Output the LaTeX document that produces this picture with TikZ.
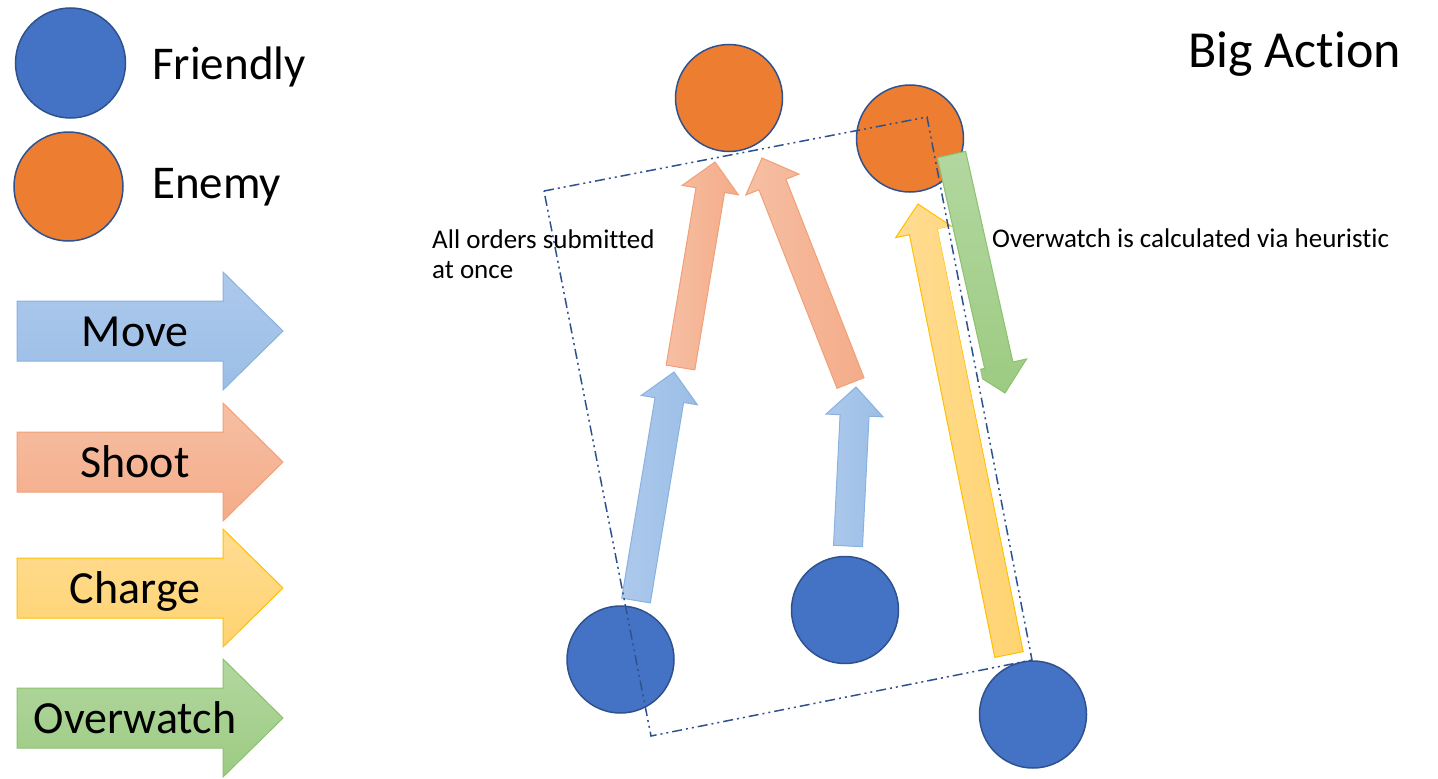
\documentclass[tikz,border=0pt]{standalone}
\usepackage{fontspec}
\setmainfont{Carlito}[Ligatures={NoCommon,NoRare,NoContextual}]
\usetikzlibrary{calc}
\definecolor{cBlue}{HTML}{4472C4}
\definecolor{cOrange}{HTML}{ED7D31}
\definecolor{cOutline}{HTML}{2F528F}
\definecolor{moveA}{HTML}{ADC9EC}
\definecolor{moveB}{HTML}{9BBEE6}
\definecolor{moveD}{HTML}{8AB2E0}
\definecolor{shootA}{HTML}{F6BFA3}
\definecolor{shootB}{HTML}{F4AC89}
\definecolor{shootD}{HTML}{F29F78}
\definecolor{chargeA}{HTML}{FFDC93}
\definecolor{chargeB}{HTML}{FFD370}
\definecolor{chargeD}{HTML}{FFC000}
\definecolor{greenA}{HTML}{B2D7A0}
\definecolor{greenB}{HTML}{9DCB82}
\definecolor{greenD}{HTML}{8CC26E}
\newcommand{\mkblockarrow}[4]{%
  \coordinate (#4b) at ($(#3)!28.5pt!(#2)$);
  \path[#1] ($(#2)!14.5pt!90:(#3)$) -- ($(#4b)!14.5pt!90:(#3)$) -- ($(#4b)!28.5pt!90:(#3)$) -- (#3) -- ($(#4b)!28.5pt!-90:(#3)$) -- ($(#4b)!14.5pt!-90:(#3)$) -- ($(#2)!14.5pt!-90:(#3)$) -- cycle;
}
\newcommand{\legendarrow}[3]{% style, tip y, name
  \path[#1] (17,#2-30) coordinate (#3a) -- (223,#2-30) -- (223,#2-59) -- (283,#2) coordinate (#3tip) -- (223,#2+59) -- (223,#2+30) -- (17,#2+30) -- cycle;
}
\begin{document}
\begin{tikzpicture}[x=1pt,y=-1pt,
  circ/.style={circle, inner sep=0pt, minimum size=107pt, draw=cOutline, line width=1.5pt},
  friendly/.style={circ, fill=cBlue},
  enemy/.style={circ, fill=cOrange},
  movearr/.style={draw=moveD, line width=1pt, left color=moveA, right color=moveB},
  shootarr/.style={draw=shootD, line width=1pt, left color=shootA, right color=shootB},
  chargearr/.style={draw=chargeD, line width=1pt, left color=chargeA, right color=chargeB},
  watcharr/.style={draw=greenD, line width=1pt, top color=greenA, bottom color=greenB},
  lmove/.style={draw=moveD, line width=1pt, top color=moveA, bottom color=moveB},
  lshoot/.style={draw=shootD, line width=1pt, top color=shootA, bottom color=shootB},
  lcharge/.style={draw=chargeD, line width=1pt, top color=chargeA, bottom color=chargeB},
  lwatch/.style={draw=greenD, line width=1pt, top color=greenA, bottom color=greenB},
  bigtxt/.style={inner sep=0pt, font=\fontsize{47}{56}\selectfont},
  legtxt/.style={inner sep=0pt, anchor=base, font=\fontsize{46}{54}\selectfont},
  smalltxt/.style={inner sep=0pt, anchor=base west, font=\fontsize{27}{30}\selectfont},
  dashrect/.style={draw=cOutline, line width=1.5pt, dash pattern=on 10pt off 4pt on 2pt off 4pt on 2pt off 4pt}
]
\useasboundingbox (0,0) rectangle (1438,779);
\fill[white] (0,0) rectangle (1438,779);

% legend
\node[friendly, minimum size=110pt] (lf) at (70.5,63) {};
\node[enemy, minimum size=109pt] (le) at (68.5,186.5) {};
\node[bigtxt, anchor=base west] (lft) at (152,79) {Friendly};
\node[bigtxt, anchor=base west] (let) at (152,198) {Enemy};

\legendarrow{lmove}{331}{lm}
\legendarrow{lshoot}{462}{ls}
\legendarrow{lcharge}{588}{lc}
\legendarrow{lwatch}{718}{lw}
\node[legtxt] (lmt) at (135,346) {Move};
\node[legtxt] (lst) at (135,477) {Shoot};
\node[legtxt] (lct) at (135,603) {Charge};
\node[legtxt] (lwt) at (135,733) {Overwatch};

% units
\node[enemy] (e1) at (729,98) {};
\node[enemy] (e2) at (910,138.5) {};
\node[friendly] (f1) at (620.5,659.5) {};
\node[friendly] (f2) at (845,610) {};
\node[friendly] (f3) at (1033,714.5) {};

% order arrows
\coordinate (m1t) at (636,600.5);  \coordinate (m1p) at (674,372);
\coordinate (m2t) at (848,546);    \coordinate (m2p) at (856,387);
\coordinate (s1t) at (680.5,367.5); \coordinate (s1p) at (715,162);
\coordinate (s2t) at (850.5,383);  \coordinate (s2p) at (762,158);
\coordinate (c1t) at (1009,654.5); \coordinate (c1p) at (918,204);
\coordinate (w1t) at (951.5,154.5); \coordinate (w1p) at (1005,393);

\mkblockarrow{movearr}{m1t}{m1p}{m1}
\mkblockarrow{movearr}{m2t}{m2p}{m2}
\mkblockarrow{shootarr}{s1t}{s1p}{s1}
\mkblockarrow{shootarr}{s2t}{s2p}{s2}
\mkblockarrow{chargearr}{c1t}{c1p}{c1}
\mkblockarrow{watcharr}{w1t}{w1p}{w1}

% white strip beside the charge arrow
\fill[white] ($(c1b)!14.5pt!-90:(c1p)$) -- ($(c1b)!28pt!-90:(c1p)$) -- ($(c1t)!28pt!-90:(c1p)$) -- ($(c1t)!15.5pt!-90:(c1p)$) -- cycle;

% group outline
\coordinate (r1) at (544,191);
\coordinate (r2) at (927,117);
\coordinate (r3) at (1032,660);
\coordinate (r4) at (651,736);
\draw[dashrect] (r1) -- (r2) -- (r3) -- (r4) -- cycle;

% texts
\node[smalltxt] (t1) at (432,248) {All orders submitted};
\node[smalltxt] (t2) at (432,278) {at once};
\node[smalltxt] (t3) at (992,247) {Overwatch is calculated via heuristic};
\node[inner sep=0pt, anchor=base east, font=\fontsize{52}{60}\selectfont] (title) at (1401,67) {Big Action};
\end{tikzpicture}
\end{document}
